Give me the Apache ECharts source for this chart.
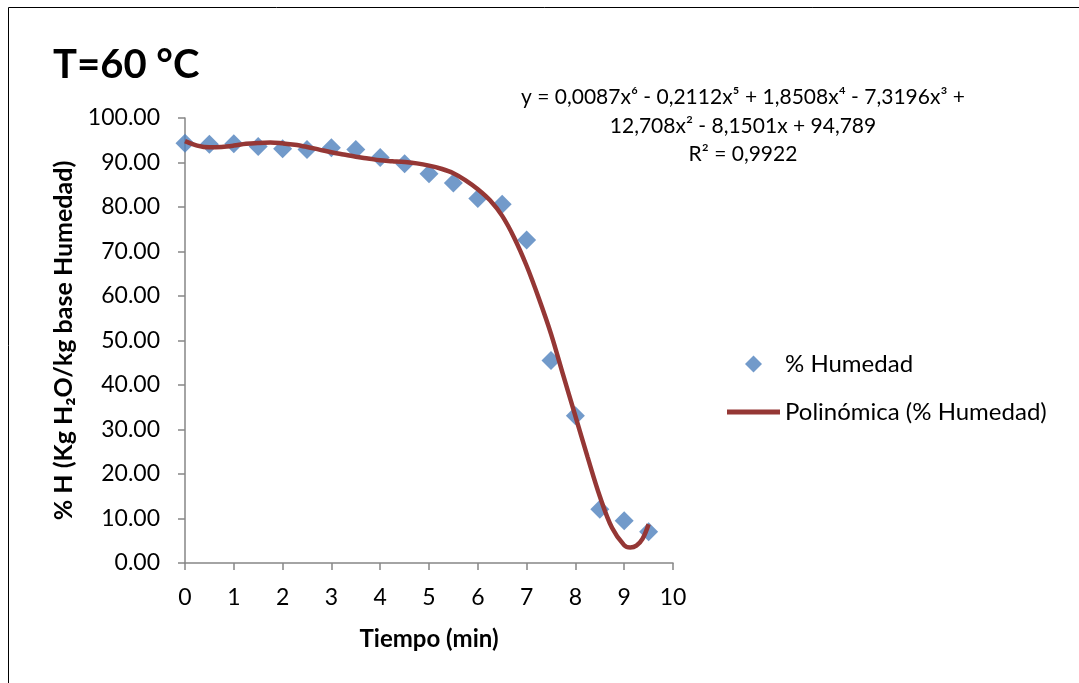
<!DOCTYPE html>
<html>
<head>
<meta charset="utf-8">
<script src="https://cdn.jsdelivr.net/npm/echarts@6/dist/echarts.min.js"></script>
<style>
html,body{margin:0;padding:0;background:#fff;}
#chart{width:1079px;height:683px;}
</style>
</head>
<body>
<div id="chart"></div>
<script>
// Measured points (% Humedad)
const tiempo = [0, 0.5, 1, 1.5, 2, 2.5, 3, 3.5, 4, 4.5, 5, 5.5, 6, 6.5, 7, 7.5, 8, 8.5, 9, 9.5];
const humedad = [94.3, 94.1, 94.2, 93.6, 93.1, 92.9, 93.3, 92.9, 91.1, 89.7, 87.5, 85.4, 81.9, 80.6, 72.6, 45.5, 33.1, 12.1, 9.5, 7.0];

// Trend curve
const curveX = [0, 0.25, 0.5, 0.75, 1, 1.25, 1.5, 1.75, 2, 2.25, 2.5, 2.75, 3, 3.25, 3.5, 3.75, 4, 4.25, 4.5, 4.75, 5, 5.25, 5.5, 5.75, 6, 6.25, 6.5, 6.75, 7, 7.25, 7.5, 7.75, 8, 8.25, 8.5, 8.75, 9, 9.125, 9.25, 9.375, 9.5];
const curveY = [94.8, 93.8, 93.4, 93.5, 93.8, 94.2, 94.4, 94.5, 94.3, 94.0, 93.5, 92.9, 92.3, 91.8, 91.3, 90.9, 90.5, 90.3, 90.1, 89.8, 89.3, 88.6, 87.6, 86.0, 84.0, 81.5, 78.0, 73.0, 66.8, 59.5, 51.5, 42.2, 33.0, 23.8, 15.0, 7.9, 4.0, 3.5, 3.9, 5.4, 8.7];

const yTickLabels = ['0.00','10.00','20.00','30.00','40.00','50.00','60.00','70.00','80.00','90.00','100.00'];
const xTickLabels = ['0','1','2','3','4','5','6','7','8','9','10'];

const seriesNames = ['% Humedad', 'Polinómica (% Humedad)'];
const chartTitle = 'T=60 °C';
const equationLines = ['y = 0,0087x⁶ - 0,2112x⁵ + 1,8508x⁴ - 7,3196x³ +', '12,708x² - 8,1501x + 94,789', 'R² = 0,9922'];

const FONT = 'Lato, "Open Sans", sans-serif';
const axisColor = '#868686';

const chart = echarts.init(document.getElementById('chart'), null, {renderer: 'canvas'});
chart.setOption({
  backgroundColor: '#fff',
  animation: false,
  graphic: [{
    type: 'rect',
    shape: {x: 8.5, y: 7.5, width: 1100, height: 700},
    style: {fill: 'none', stroke: '#000', lineWidth: 1},
    silent: true
  }],
  title: [{
    text: chartTitle,
    left: 48, top: 40,
    textStyle: {fontFamily: FONT, fontWeight: 'bold', fontSize: 40, color: '#000'}
  }, {
    text: equationLines.join('\n'),
    left: 738, top: 78,
    textAlign: 'center',
    textStyle: {fontFamily: FONT, fontWeight: 'normal', fontSize: 21, lineHeight: 28.5, color: '#000'}
  }],
  legend: [{
    data: [seriesNames[0]],
    left: 740, top: 347,
    icon: 'diamond',
    itemWidth: 17, itemHeight: 17, itemGap: 0,
    textStyle: {fontFamily: FONT, fontSize: 24, color: '#000', padding: [0, 0, 0, 18]}
  }, {
    data: [seriesNames[1]],
    left: 722, top: 395,
    icon: 'rect',
    itemWidth: 53, itemHeight: 5, itemGap: 0,
    textStyle: {fontFamily: FONT, fontSize: 24, color: '#000'}
  }],
  grid: {left: 185, right: 406, top: 118, bottom: 120, containLabel: false},
  xAxis: {
    type: 'value', min: 0, max: 10, interval: 1,
    name: 'Tiempo (min)', nameLocation: 'middle', nameGap: 64,
    nameTextStyle: {fontFamily: FONT, fontWeight: 'bold', fontSize: 24, color: '#000'},
    axisLine: {lineStyle: {color: axisColor, width: 1.5}},
    axisTick: {length: 7, lineStyle: {color: axisColor, width: 1.5}},
    splitLine: {show: false},
    axisLabel: {fontFamily: FONT, fontSize: 23, color: '#000', margin: 23,
      formatter: v => xTickLabels[Math.round(v)]}
  },
  yAxis: {
    type: 'value', min: 0, max: 100, interval: 10,
    name: '% H (Kg H₂O/kg base Humedad)', nameLocation: 'middle', nameGap: 109,
    nameTextStyle: {fontFamily: FONT, fontWeight: 'bold', fontSize: 25, color: '#000'},
    axisLine: {show: true, lineStyle: {color: axisColor, width: 1.5}},
    axisTick: {show: true, length: 7, lineStyle: {color: axisColor, width: 1.5}},
    splitLine: {show: false},
    axisLabel: {fontFamily: FONT, fontSize: 23, color: '#000', margin: 25,
      formatter: v => yTickLabels[Math.round(v / 10)]}
  },
  series: [{
    name: seriesNames[0],
    type: 'scatter',
    symbol: 'diamond',
    symbolSize: 19,
    itemStyle: {color: '#4F81BD'},
    data: tiempo.map((t, i) => [t, humedad[i]]),
    z: 2
  }, {
    name: seriesNames[1],
    type: 'line',
    smooth: 0.35,
    showSymbol: false,
    symbol: 'none',
    lineStyle: {color: '#953735', width: 4.5},
    itemStyle: {color: '#953735'},
    data: curveX.map((t, i) => [t, curveY[i]]),
    z: 3
  }]
});
</script>
</body>
</html>
